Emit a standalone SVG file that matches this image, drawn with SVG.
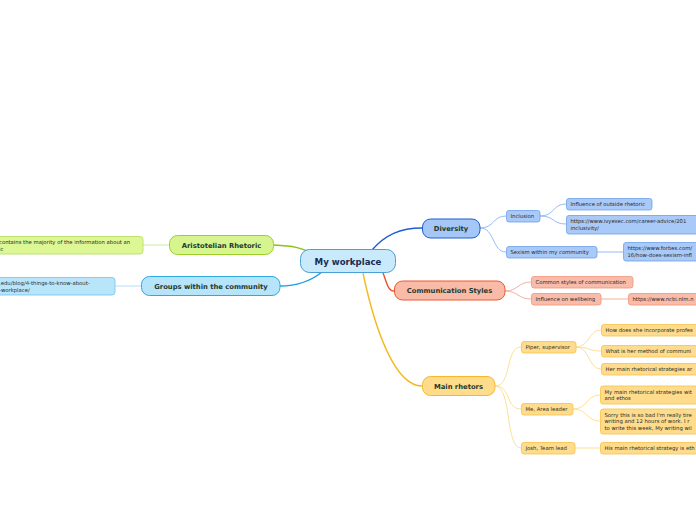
<svg xmlns="http://www.w3.org/2000/svg" width="696" height="520" viewBox="0 0 696 520">
<style>
text{font-family:"DejaVu Sans","Verdana",sans-serif;}
.main{font-size:6.8px;font-weight:bold;fill:#1e3a2e;text-anchor:middle;}
.sub{font-size:5.3px;fill:#2a2a2a;}
.c{fill:none;stroke-width:1.4;}
.t{fill:none;stroke-width:0.9;}
.gA{fill:#d6f58e;stroke:#9dcf2b;stroke-width:1;}
.gAs{fill:#dcf794;stroke:#b5dc5a;stroke-width:0.8;}
.bG{fill:#b5e4fb;stroke:#2fa8e2;stroke-width:1;}
.bGs{fill:#b9e5fb;stroke:#6cc4ef;stroke-width:0.8;}
.bD{fill:#a4c7f8;stroke:#1f5fcc;stroke-width:1;}
.bDs{fill:#a9c9f8;stroke:#6e9fe8;stroke-width:0.8;}
.rC{fill:#f9bba8;stroke:#e85a34;stroke-width:1;}
.rCs{fill:#f9bcaa;stroke:#ef9476;stroke-width:0.8;}
.yM{fill:#fedc8c;stroke:#f6b92c;stroke-width:1;}
.yMs{fill:#fedc8c;stroke:#f7c04a;stroke-width:0.8;}
</style>
<rect width="696" height="520" fill="#ffffff"/>
<g id="connectors">
<path class="c" stroke="#8cbf1a" d="M274,245 C295,246 300,248 310,252"/>
<path class="c" stroke="#1a9ee0" d="M280,286 C300,286 312,280 322,272"/>
<path class="c" stroke="#1f5fd0" d="M372,250 C385,235 400,228 422,228"/>
<path class="c" stroke="#e8532a" d="M383,273 C387,283 388,291 394,291"/>
<path class="c" stroke="#f5b81f" d="M363,273 C375,330 395,386 422,386"/>
<path class="t" stroke="#c5e89a" d="M143,245 L169,245"/>
<path class="t" stroke="#a8dcf6" d="M115,286 L141,286"/>
<path class="t" stroke="#8ab4f0" d="M480,228 C495,228 492,216 506,216"/>
<path class="t" stroke="#8ab4f0" d="M480,228 C495,228 492,252 506,252"/>
<path class="t" stroke="#8ab4f0" d="M540,216 C555,216 552,204 566,204"/>
<path class="t" stroke="#8ab4f0" d="M540,216 C555,216 552,224 566,224"/>
<path class="t" stroke="#8ab4f0" d="M597,252 L623,252"/>
<path class="t" stroke="#f4a58e" d="M505,291 C518,291 518,282 531,282"/>
<path class="t" stroke="#f4a58e" d="M505,291 C518,291 518,299 531,299"/>
<path class="t" stroke="#f4a58e" d="M601,299 L628,299"/>
<path class="t" stroke="#fddc8c" d="M495,386 C512,386 505,347 521,347"/>
<path class="t" stroke="#fddc8c" d="M495,386 C512,386 505,409 521,409"/>
<path class="t" stroke="#fddc8c" d="M495,386 C512,386 505,448 521,448"/>
<path class="t" stroke="#fddc8c" d="M576,347 C590,347 588,330 601,330"/>
<path class="t" stroke="#fddc8c" d="M576,347 C590,347 588,351 601,351"/>
<path class="t" stroke="#fddc8c" d="M576,347 C590,347 588,369 601,369"/>
<path class="t" stroke="#fddc8c" d="M573,409 C588,409 586,395 600,395"/>
<path class="t" stroke="#fddc8c" d="M573,409 C588,409 586,421 600,421"/>
<path class="t" stroke="#fddc8c" d="M575,448 L600,448"/>
</g>
<g id="center">
<rect x="300.5" y="249.5" width="95" height="23" rx="9" fill="#c8eafb" stroke="#4a9fd8" stroke-width="1"/>
<text x="348" y="264.5" style="font-size:8.6px;font-weight:bold;fill:#1a2a55;text-anchor:middle">My workplace</text>
</g>
<g id="aristotelian">
<rect class="gA" x="169.5" y="235.5" width="104" height="19" rx="8"/>
<text class="main" x="221.5" y="247.5">Aristotelian Rhetoric</text>
</g>
<g id="aristotelian-info">
<rect class="gAs" x="-20" y="236.5" width="163" height="17.5" rx="3"/>
<text class="sub" x="-1" y="244">contains the majority of the information about an</text>
<text class="sub" x="-1" y="250.5">ic</text>
</g>
<g id="groups">
<rect class="bG" x="141.5" y="276.5" width="138.5" height="19" rx="8"/>
<text class="main" x="211" y="288.5">Groups within the community</text>
</g>
<g id="groups-link">
<rect class="bGs" x="-20" y="277.5" width="135" height="17.5" rx="3"/>
<text class="sub" x="-1" y="285">.edu/blog/4-things-to-know-about-</text>
<text class="sub" x="-1" y="291.5">-workplace/</text>
</g>
<g id="diversity">
<rect class="bD" x="422.5" y="219" width="57.5" height="19" rx="8"/>
<text class="main" x="451" y="231">Diversity</text>
</g>
<g id="inclusion">
<rect class="bDs" x="506.5" y="210.5" width="33.5" height="11.5" rx="2.5"/>
<text class="sub" x="510.5" y="218">Inclusion</text>
</g>
<g id="influence-outside">
<rect class="bDs" x="566.5" y="198.5" width="85.5" height="11.5" rx="2.5"/>
<text class="sub" x="570.5" y="206">Influence of outside rhetoric</text>
</g>
<g id="ivyexec">
<rect class="bDs" x="566.5" y="215.5" width="140" height="18.5" rx="2.5"/>
<text class="sub" x="570.5" y="223">https://www.ivyexec.com/career-advice/201</text>
<text class="sub" x="570.5" y="230">inclusivity/</text>
</g>
<g id="sexism">
<rect class="bDs" x="506.5" y="246.5" width="90.5" height="11.5" rx="2.5"/>
<text class="sub" x="510.5" y="254">Sexism within my community</text>
</g>
<g id="forbes">
<rect class="bDs" x="623.5" y="242.5" width="90" height="18.5" rx="2.5"/>
<text class="sub" x="627.5" y="250">https://www.forbes.com/</text>
<text class="sub" x="627.5" y="257">16/how-does-sexism-infl</text>
</g>
<g id="communication">
<rect class="rC" x="394.5" y="281" width="110.5" height="19" rx="8"/>
<text class="main" x="449.5" y="293">Communication Styles</text>
</g>
<g id="common-styles">
<rect class="rCs" x="531.5" y="276.5" width="101.5" height="11.5" rx="2.5"/>
<text class="sub" x="535.5" y="284">Common styles of communication</text>
</g>
<g id="wellbeing">
<rect class="rCs" x="531.5" y="293.5" width="69.5" height="11.5" rx="2.5"/>
<text class="sub" x="535.5" y="301">Influence on wellbeing</text>
</g>
<g id="ncbi">
<rect class="rCs" x="628.5" y="293.5" width="90" height="11.5" rx="2.5"/>
<text class="sub" x="632.5" y="301">https://www.ncbi.nlm.n</text>
</g>
<g id="main-rhetors">
<rect class="yM" x="422.5" y="376.5" width="72.5" height="19" rx="8"/>
<text class="main" x="458.5" y="388.5">Main rhetors</text>
</g>
<g id="piper">
<rect class="yMs" x="521.5" y="341.5" width="54.5" height="11.5" rx="2.5"/>
<text class="sub" x="525.5" y="349">Piper, supervisor</text>
</g>
<g id="piper-q1">
<rect class="yMs" x="601.5" y="324.5" width="110" height="11.5" rx="2.5"/>
<text class="sub" x="605.5" y="332">How does she incorporate profes</text>
</g>
<g id="piper-q2">
<rect class="yMs" x="601.5" y="345.5" width="110" height="11.5" rx="2.5"/>
<text class="sub" x="605.5" y="353">What is her method of communi</text>
</g>
<g id="piper-q3">
<rect class="yMs" x="601.5" y="363.5" width="110" height="11.5" rx="2.5"/>
<text class="sub" x="605.5" y="371">Her main rhetorical strategies ar</text>
</g>
<g id="me">
<rect class="yMs" x="521.5" y="403.5" width="51.5" height="11.5" rx="2.5"/>
<text class="sub" x="525.5" y="411">Me, Area leader</text>
</g>
<g id="me-strategies">
<rect class="yMs" x="600.5" y="386" width="110" height="18" rx="2.5"/>
<text class="sub" x="604.5" y="393.5">My main rhetorical strategies wit</text>
<text class="sub" x="604.5" y="400">and ethos</text>
</g>
<g id="me-sorry">
<rect class="yMs" x="600.5" y="409" width="110" height="25" rx="2.5"/>
<text class="sub" x="604.5" y="416.5">Sorry this is so bad I'm really tire</text>
<text class="sub" x="604.5" y="423">writing and 12 hours of work. I r</text>
<text class="sub" x="604.5" y="429.5">to write this week, My writing wil</text>
</g>
<g id="josh">
<rect class="yMs" x="521.5" y="442.5" width="53.5" height="11.5" rx="2.5"/>
<text class="sub" x="525.5" y="450">Josh, Team lead</text>
</g>
<g id="josh-strategy">
<rect class="yMs" x="600.5" y="442.5" width="110" height="11.5" rx="2.5"/>
<text class="sub" x="604.5" y="450">His main rhetorical strategy is eth</text>
</g>
</svg>
